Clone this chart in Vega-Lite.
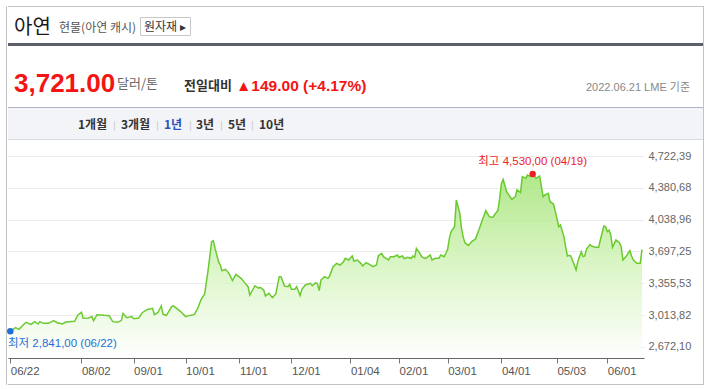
{
"$schema":"https://vega.github.io/schema/vega-lite/v6.json",
"padding":{"left":6,"top":6,"right":0,"bottom":0},
"background":"white",
"config":{"view":{"stroke":null},"title":{"anchor":"start","frame":"group","orient":"top","baseline":"alphabetic","fontWeight":"normal","font":"Noto Sans CJK KR","color":"#333"}},
"datasets":{
"none":[],
"ticks":[{"d":"2021-06-22"},{"d":"2021-08-02"},{"d":"2021-09-01"},{"d":"2021-10-01"},{"d":"2021-11-01"},{"d":"2021-12-01"},{"d":"2022-01-04"},{"d":"2022-02-01"},{"d":"2022-03-01"},{"d":"2022-04-01"},{"d":"2022-05-03"},{"d":"2022-06-01"}],
"ext":[{"d":"2022-04-19","v":4530,"kind":"high","label":"최고 4,530,00 (04/19)"},{"d":"2021-06-22","v":2841,"kind":"low","label":"최저 2,841,00 (06/22)"}],
"zinc":[
{"d":"2021-06-22","v":2841},{"d":"2021-06-25","v":2880},{"d":"2021-06-27","v":2862},{"d":"2021-07-01","v":2937},{"d":"2021-07-04","v":2915},{"d":"2021-07-06","v":2944},{"d":"2021-07-08","v":2919},{"d":"2021-07-09","v":2944},{"d":"2021-07-11","v":2926},{"d":"2021-07-14","v":2926},{"d":"2021-07-17","v":2955},{"d":"2021-07-19","v":2933},{"d":"2021-07-22","v":2919},{"d":"2021-07-24","v":2940},{"d":"2021-07-29","v":2948},{"d":"2021-07-31","v":3016},
{"d":"2021-08-02","v":3044},{"d":"2021-08-03","v":2980},{"d":"2021-08-06","v":2983},{"d":"2021-08-08","v":2998},{"d":"2021-08-09","v":2955},{"d":"2021-08-11","v":3019},{"d":"2021-08-15","v":3012},{"d":"2021-08-18","v":3008},{"d":"2021-08-20","v":2944},{"d":"2021-08-23","v":2937},{"d":"2021-08-25","v":2958},{"d":"2021-08-26","v":3033},{"d":"2021-08-28","v":2987},{"d":"2021-08-31","v":2998},
{"d":"2021-09-01","v":2976},{"d":"2021-09-04","v":2983},{"d":"2021-09-06","v":3040},{"d":"2021-09-09","v":3075},{"d":"2021-09-12","v":3087},{"d":"2021-09-13","v":3020},{"d":"2021-09-15","v":3040},{"d":"2021-09-17","v":3112},{"d":"2021-09-18","v":3023},{"d":"2021-09-20","v":3012},{"d":"2021-09-23","v":3105},{"d":"2021-09-24","v":3114},{"d":"2021-09-28","v":3055},
{"d":"2021-10-01","v":2998},{"d":"2021-10-04","v":3014},{"d":"2021-10-06","v":3019},{"d":"2021-10-08","v":3087},{"d":"2021-10-10","v":3184},{"d":"2021-10-12","v":3241},{"d":"2021-10-14","v":3499},{"d":"2021-10-16","v":3803},{"d":"2021-10-17","v":3814},{"d":"2021-10-18","v":3730},{"d":"2021-10-20","v":3588},{"d":"2021-10-21","v":3552},{"d":"2021-10-22","v":3490},{"d":"2021-10-24","v":3506},{"d":"2021-10-26","v":3463},{"d":"2021-10-28","v":3384},{"d":"2021-10-30","v":3452},
{"d":"2021-11-02","v":3409},{"d":"2021-11-04","v":3363},{"d":"2021-11-06","v":3320},{"d":"2021-11-07","v":3230},{"d":"2021-11-10","v":3330},{"d":"2021-11-12","v":3305},{"d":"2021-11-13","v":3313},{"d":"2021-11-15","v":3284},{"d":"2021-11-16","v":3220},{"d":"2021-11-18","v":3248},{"d":"2021-11-20","v":3202},{"d":"2021-11-22","v":3241},{"d":"2021-11-23","v":3338},{"d":"2021-11-24","v":3427},{"d":"2021-11-25","v":3427},{"d":"2021-11-27","v":3327},{"d":"2021-11-29","v":3320},{"d":"2021-11-30","v":3345},
{"d":"2021-12-01","v":3291},{"d":"2021-12-03","v":3291},{"d":"2021-12-04","v":3320},{"d":"2021-12-06","v":3223},{"d":"2021-12-07","v":3291},{"d":"2021-12-09","v":3338},{"d":"2021-12-12","v":3356},{"d":"2021-12-13","v":3330},{"d":"2021-12-15","v":3363},{"d":"2021-12-16","v":3348},{"d":"2021-12-17","v":3277},{"d":"2021-12-18","v":3391},{"d":"2021-12-20","v":3427},{"d":"2021-12-22","v":3409},{"d":"2021-12-23","v":3434},{"d":"2021-12-25","v":3534},{"d":"2021-12-27","v":3570},{"d":"2021-12-29","v":3552},{"d":"2021-12-31","v":3588},
{"d":"2022-01-01","v":3624},{"d":"2022-01-03","v":3606},{"d":"2022-01-05","v":3649},{"d":"2022-01-06","v":3595},{"d":"2022-01-08","v":3606},{"d":"2022-01-10","v":3570},{"d":"2022-01-11","v":3542},{"d":"2022-01-13","v":3577},{"d":"2022-01-15","v":3560},{"d":"2022-01-17","v":3535},{"d":"2022-01-19","v":3552},{"d":"2022-01-20","v":3649},{"d":"2022-01-22","v":3678},{"d":"2022-01-23","v":3642},{"d":"2022-01-26","v":3606},{"d":"2022-01-27","v":3642},{"d":"2022-01-29","v":3642},{"d":"2022-01-31","v":3660},
{"d":"2022-02-01","v":3635},{"d":"2022-02-03","v":3649},{"d":"2022-02-04","v":3620},{"d":"2022-02-06","v":3635},{"d":"2022-02-08","v":3624},{"d":"2022-02-09","v":3649},{"d":"2022-02-10","v":3635},{"d":"2022-02-11","v":3731},{"d":"2022-02-13","v":3678},{"d":"2022-02-14","v":3642},{"d":"2022-02-16","v":3624},{"d":"2022-02-17","v":3631},{"d":"2022-02-19","v":3660},{"d":"2022-02-20","v":3606},{"d":"2022-02-22","v":3624},{"d":"2022-02-24","v":3624},{"d":"2022-02-25","v":3660},{"d":"2022-02-27","v":3642},{"d":"2022-02-28","v":3678},
{"d":"2022-03-01","v":3721},{"d":"2022-03-02","v":3839},{"d":"2022-03-03","v":3910},{"d":"2022-03-05","v":3964},{"d":"2022-03-06","v":4250},{"d":"2022-03-08","v":4107},{"d":"2022-03-09","v":3946},{"d":"2022-03-10","v":3849},{"d":"2022-03-11","v":3790},{"d":"2022-03-13","v":3763},{"d":"2022-03-15","v":3806},{"d":"2022-03-17","v":3830},{"d":"2022-03-19","v":3928},{"d":"2022-03-21","v":4035},{"d":"2022-03-23","v":4136},{"d":"2022-03-25","v":4071},{"d":"2022-03-27","v":4062},{"d":"2022-03-28","v":4089},{"d":"2022-03-30","v":4140},{"d":"2022-03-31","v":4270},
{"d":"2022-04-01","v":4429},{"d":"2022-04-02","v":4470},{"d":"2022-04-04","v":4340},{"d":"2022-04-05","v":4313},{"d":"2022-04-07","v":4257},{"d":"2022-04-09","v":4286},{"d":"2022-04-10","v":4360},{"d":"2022-04-12","v":4329},{"d":"2022-04-13","v":4501},{"d":"2022-04-15","v":4483},{"d":"2022-04-16","v":4518},{"d":"2022-04-18","v":4501},{"d":"2022-04-19","v":4530},{"d":"2022-04-21","v":4483},{"d":"2022-04-23","v":4508},{"d":"2022-04-25","v":4286},{"d":"2022-04-26","v":4304},{"d":"2022-04-28","v":4322},{"d":"2022-04-29","v":4232},
{"d":"2022-05-01","v":4207},{"d":"2022-05-03","v":4053},{"d":"2022-05-04","v":3964},{"d":"2022-05-05","v":3982},{"d":"2022-05-07","v":3857},{"d":"2022-05-08","v":3749},{"d":"2022-05-09","v":3649},{"d":"2022-05-10","v":3656},{"d":"2022-05-11","v":3649},{"d":"2022-05-13","v":3552},{"d":"2022-05-14","v":3499},{"d":"2022-05-15","v":3588},{"d":"2022-05-17","v":3695},{"d":"2022-05-18","v":3642},{"d":"2022-05-19","v":3649},{"d":"2022-05-20","v":3721},{"d":"2022-05-22","v":3771},{"d":"2022-05-23","v":3756},{"d":"2022-05-25","v":3742},{"d":"2022-05-27","v":3742},{"d":"2022-05-28","v":3821},{"d":"2022-05-30","v":3971},{"d":"2022-05-31","v":3964},
{"d":"2022-06-01","v":3910},{"d":"2022-06-02","v":3928},{"d":"2022-06-03","v":3874},{"d":"2022-06-04","v":3742},{"d":"2022-06-06","v":3821},{"d":"2022-06-08","v":3792},{"d":"2022-06-09","v":3749},{"d":"2022-06-10","v":3606},{"d":"2022-06-12","v":3649},{"d":"2022-06-14","v":3706},{"d":"2022-06-15","v":3649},{"d":"2022-06-16","v":3606},{"d":"2022-06-18","v":3570},{"d":"2022-06-20","v":3572},{"d":"2022-06-21","v":3721}
]},
"spacing":0,
"hconcat":[
 {"width":1,"height":379,"data":{"name":"none"},"mark":"point","view":{"fill":"#c4c4c4"}},
 {"spacing":0,"vconcat":[
   {"width":695,"height":1,"data":{"name":"none"},"mark":"point","view":{"fill":"#c4c4c4"}},
   {"spacing":0,"bounds":"flush","hconcat":[
     {"width":6,"height":36,"data":{"name":"none"},"mark":"point","view":{"fill":"white"}},
     {"width":45,"height":36,"data":{"name":"none"},"mark":"point","view":{"fill":"white"},"title":{"text":"아연","offset":-31,"fontSize":20,"color":"#1a1a1a"}},
     {"width":81,"height":36,"data":{"name":"none"},"mark":"point","view":{"fill":"white"},"title":{"text":"현물(아연 캐시)","offset":-28,"fontSize":12,"color":"#555"}},
     {"spacing":0,"bounds":"flush","vconcat":[
        {"width":50,"height":10,"data":{"name":"none"},"mark":"point","view":{"fill":"white"}},
        {"width":50,"height":18,"data":{"name":"none"},"mark":"point","view":{"fill":"white","stroke":"#c8c8c8"},"title":{"text":"원자재 ▸","offset":-17,"dx":4,"fontSize":12,"color":"#333"}}
     ]}
   ]},
   {"width":695,"height":3,"data":{"name":"none"},"mark":"point","view":{"fill":"#5c6068"}},
   {"spacing":0,"bounds":"flush","hconcat":[
     {"width":6,"height":61,"data":{"name":"none"},"mark":"point","view":{"fill":"white"}},
     {"width":103,"height":61,"data":{"name":"none"},"mark":"point","view":{"fill":"white"},"title":{"text":"3,721.00","offset":-50.5,"font":"Liberation Sans","fontWeight":"bold","fontSize":26,"color":"#f41414"}},
     {"width":67,"height":61,"data":{"name":"none"},"mark":"point","view":{"fill":"white"},"title":{"text":"달러/톤","offset":-45.2,"fontSize":13,"color":"#666"}},
     {"width":52,"height":61,"data":{"name":"none"},"mark":"point","view":{"fill":"white"},"title":{"text":"전일대비","offset":-46.7,"fontSize":13,"fontWeight":"bold","color":"#333"}},
     {"width":335,"height":61,"data":{"name":"none"},"mark":"point","view":{"fill":"white"},"title":{"text":"▲149.00 (+4.17%)","offset":-48,"font":"Liberation Sans","fontWeight":"bold","fontSize":15.5,"color":"#f41414"}},
     {"width":132,"height":61,"data":{"name":"none"},"mark":"point","view":{"fill":"white"},"title":{"text":"2022.06.21  LME 기준","offset":-47.3,"dx":15,"font":"Liberation Sans, Noto Sans CJK KR","fontSize":11,"color":"#888"}}
   ]},
   {"width":695,"height":1,"data":{"name":"none"},"mark":"point","view":{"fill":"#aeb2c3"}},
   {"spacing":0,"bounds":"flush","hconcat":[
     {"width":70,"height":31,"data":{"name":"none"},"mark":"point","view":{"fill":"#f3f4f8"}},
     {"width":35,"height":31,"data":{"name":"none"},"mark":"point","view":{"fill":"#f3f4f8"},"title":{"text":"1개월","offset":-23.5,"fontSize":12,"fontWeight":"bold","color":"#333"}},
     {"width":8,"height":31,"data":{"name":"none"},"mark":"point","view":{"fill":"#f3f4f8"},"title":{"text":"|","offset":-23.3,"font":"Liberation Sans","fontSize":11,"color":"#cfcfcf"}},
     {"width":35,"height":31,"data":{"name":"none"},"mark":"point","view":{"fill":"#f3f4f8"},"title":{"text":"3개월","offset":-23.5,"fontSize":12,"fontWeight":"bold","color":"#333"}},
     {"width":8,"height":31,"data":{"name":"none"},"mark":"point","view":{"fill":"#f3f4f8"},"title":{"text":"|","offset":-23.3,"font":"Liberation Sans","fontSize":11,"color":"#cfcfcf"}},
     {"width":25,"height":31,"data":{"name":"none"},"mark":"point","view":{"fill":"#f3f4f8"},"title":{"text":"1년","offset":-23.5,"fontSize":12,"fontWeight":"bold","color":"#2b50c0"}},
     {"width":7,"height":31,"data":{"name":"none"},"mark":"point","view":{"fill":"#f3f4f8"},"title":{"text":"|","offset":-23.3,"font":"Liberation Sans","fontSize":11,"color":"#cfcfcf"}},
     {"width":24,"height":31,"data":{"name":"none"},"mark":"point","view":{"fill":"#f3f4f8"},"title":{"text":"3년","offset":-23.5,"fontSize":12,"fontWeight":"bold","color":"#333"}},
     {"width":8,"height":31,"data":{"name":"none"},"mark":"point","view":{"fill":"#f3f4f8"},"title":{"text":"|","offset":-23.3,"font":"Liberation Sans","fontSize":11,"color":"#cfcfcf"}},
     {"width":23,"height":31,"data":{"name":"none"},"mark":"point","view":{"fill":"#f3f4f8"},"title":{"text":"5년","offset":-23.5,"fontSize":12,"fontWeight":"bold","color":"#333"}},
     {"width":8,"height":31,"data":{"name":"none"},"mark":"point","view":{"fill":"#f3f4f8"},"title":{"text":"|","offset":-23.3,"font":"Liberation Sans","fontSize":11,"color":"#cfcfcf"}},
     {"width":444,"height":31,"data":{"name":"none"},"mark":"point","view":{"fill":"#f3f4f8"},"title":{"text":"10년","offset":-23.5,"fontSize":12,"fontWeight":"bold","color":"#333"}}
   ]},
   {"width":695,"height":1,"data":{"name":"none"},"mark":"point","view":{"fill":"#d8dae2"}},
   {"width":636,"height":218,
    "encoding":{
      "x":{"field":"d","type":"temporal",
        "scale":{"domain":[{"year":2021,"month":6,"date":20,"hours":16,"minutes":12},{"year":2022,"month":6,"date":22,"hours":3,"minutes":39}]},
        "axis":{"values":[{"year":2021,"month":6,"date":22},{"year":2021,"month":8,"date":2},{"year":2021,"month":9,"date":1},{"year":2021,"month":10,"date":1},{"year":2021,"month":11,"date":1},{"year":2021,"month":12,"date":1},{"year":2022,"month":1,"date":4},{"year":2022,"month":2,"date":1},{"year":2022,"month":3,"date":1},{"year":2022,"month":4,"date":1},{"year":2022,"month":5,"date":3},{"year":2022,"month":6,"date":1}],
          "format":"%m/%d","title":null,"grid":false,"labelAlign":"left","labelFont":"Liberation Sans","labelFontSize":11.5,"labelColor":"#555","tickColor":"#777","tickSize":5,"domainColor":"#666","labelPadding":2,"labelFlush":false,"labelOverlap":false,"labelBound":false}},
      "y":{"field":"v","type":"quantitative",
        "scale":{"domain":[2554.0,4894.15],"nice":false,"zero":false},
        "axis":{"orient":"right","values":[2672.10,3013.82,3355.53,3697.25,4038.96,4380.68,4722.39],"labelExpr":"replace(format(datum.value, ',.2f'), '.', ',')","title":null,"domain":false,"ticks":false,"labelPadding":4,"labelFont":"Liberation Sans","labelFontSize":11,"labelColor":"#666","gridColor":"#ebebeb"}}
    },
    "layer":[
      {"data":{"name":"ticks"},
       "mark":{"type":"rule","color":"#ebebeb","strokeWidth":1},
       "encoding":{"y":{"datum":4722.39},"y2":{"datum":2554.0}}},
      {"data":{"name":"zinc"},
       "mark":{"type":"area","opacity":0.85,"fill":{"gradient":"linear","x1":0,"y1":0,"x2":0,"y2":1,"stops":[{"offset":0,"color":"#a4e476"},{"offset":0.55,"color":"#d9f5c4"},{"offset":1,"color":"#ffffff"}]}},
       "encoding":{"y2":{"datum":2554.0}}},
      {"data":{"name":"zinc"},
       "mark":{"type":"line","color":"#6aca30","strokeWidth":1.5}},
      {"data":{"name":"ext"},
       "mark":{"type":"point","filled":true,"size":42,"opacity":1},
       "encoding":{"color":{"field":"kind","type":"nominal","scale":{"domain":["high","low"],"range":["#ee1c25","#1f6fd6"]},"legend":null}}},
      {"data":{"name":"ext"},
       "transform":[{"filter":"datum.kind == 'high'"}],
       "mark":{"type":"text","align":"center","baseline":"alphabetic","dy":-9,"font":"Liberation Sans, Noto Sans CJK KR","fontSize":11.5},
       "encoding":{"text":{"field":"label"},"color":{"field":"kind","type":"nominal","scale":{"domain":["high","low"],"range":["#ee1c25","#1f6fd6"]},"legend":null}}},
      {"data":{"name":"ext"},
       "transform":[{"filter":"datum.kind == 'low'"}],
       "mark":{"type":"text","align":"left","baseline":"alphabetic","dx":-2.3,"dy":16,"font":"Liberation Sans, Noto Sans CJK KR","fontSize":11.5},
       "encoding":{"text":{"field":"label"},"color":{"field":"kind","type":"nominal","scale":{"domain":["high","low"],"range":["#ee1c25","#1f6fd6"]},"legend":null}}}
    ]},
   {"width":695,"height":7,"data":{"name":"none"},"mark":"point","view":{"fill":"white"}},
   {"width":695,"height":1,"data":{"name":"none"},"mark":"point","view":{"fill":"#c4c4c4"}}
 ]},
 {"width":1,"height":379,"data":{"name":"none"},"mark":"point","view":{"fill":"#c4c4c4"}}
]
}
